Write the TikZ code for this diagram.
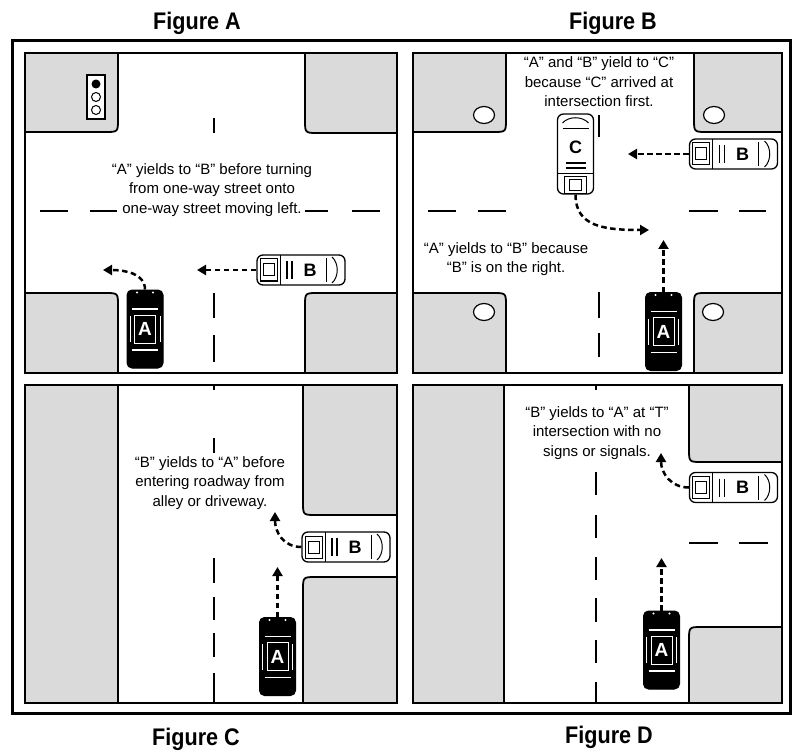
\documentclass[tikz,border=0pt]{standalone}
\usepackage{fontspec}
\setmainfont{Liberation Sans}
\newfontfamily\titlefont{Liberation Sans}[FakeStretch=0.9]
\usetikzlibrary{arrows.meta}
\definecolor{blockgray}{RGB}{218,218,218}
\newcommand\blackcardeco[1]{%
  \begin{scope}[shift={(#1.center)},white]
    \draw[line width=1.3pt] (-13,-20) -- (13,-20);
    \draw[line width=1.3pt] (-13,21) -- (13,21);
    \draw[line width=1pt] (-10.5,-14) rectangle (10.5,14);
    \draw[line width=1pt] (-15,-13) -- (-15,13) (15,-13) -- (15,13);
    \fill (-8,-36.5) circle (1.2) (8,-36.5) circle (1.2);
  \end{scope}}
\newcommand\whitecarHdeco[1]{%
  \begin{scope}[shift={(#1.center)},black,line width=1pt]
    \draw (-41,-11) rectangle (-24,11);
    \draw (-38,-6) rectangle (-27,6);
    \draw (-21,-15) -- (-21,15);
    \draw[line width=1.3pt] (-14,-9) -- (-14,9) (-9,-9) -- (-9,9);
    \draw (25,-12) -- (25,12);
    \draw (31,-13) .. controls (38,-7) and (38,7) .. (31,13);
  \end{scope}}
\newcommand\whitecarVdeco[1]{%
  \begin{scope}[shift={(#1.center)},black,line width=1pt]
    \draw (-11,23) rectangle (11,40);
    \draw (-6,26) rectangle (6,37);
    \draw (-18,20) -- (18,20);
    \draw[line width=1.3pt] (-10,14) -- (10,14) (-10,9) -- (10,9);
    \draw (-13,-25) -- (13,-25);
    \draw (-13,-31) .. controls (-7,-38) and (7,-38) .. (13,-31);
  \end{scope}}
\begin{document}
\begin{tikzpicture}[x=1pt,y=-1pt,
  frame/.style={draw=black,line width=1.8pt},
  block/.style={fill=blockgray,draw=black,line width=1.8pt},
  lane/.style={line width=2.6pt},
  flow/.style={line width=2.5pt,dash pattern=on 5.5pt off 3.5pt,-{Triangle[length=9pt,width=10pt]}},
  lbl/.style={font=\fontsize{15}{19.5}\selectfont,align=center,inner sep=1pt},
  ttl/.style={font=\titlefont\fontsize{24}{28}\selectfont\bfseries,anchor=base,inner sep=0pt},
  carletter/.style={font=\fontsize{18}{18}\selectfont\bfseries,inner sep=0pt},
  blackcar/.style={fill=black,draw=black,line width=1pt,rounded corners=5pt,
    minimum width=36pt,minimum height=78pt,inner sep=0pt},
  whitecarH/.style={fill=white,draw=black,line width=1.3pt,rounded corners=6pt,
    minimum width=88pt,minimum height=30pt,inner sep=0pt},
  whitecarV/.style={fill=white,draw=black,line width=1.3pt,rounded corners=6pt,
    minimum width=36pt,minimum height=80pt,inner sep=0pt},
  aletter/.style={text=white,font=\fontsize{19}{19}\selectfont\bfseries,inner sep=0pt}
]
\useasboundingbox (0,0) rectangle (792,751);
\fill[white] (0,0) rectangle (792,751);

% ---------- Panel A ----------
\path[block] (25,53) -- (118,53) -- (118,119) .. controls (118,132) .. (105,132) -- (25,132) -- cycle;
\path[block] (397,53) -- (305,53) -- (305,120) .. controls (305,133) .. (318,133) -- (397,133) -- cycle;
\path[block] (25,373) -- (118,373) -- (118,306) .. controls (118,293) .. (105,293) -- (25,293) -- cycle;
\path[block] (397,373) -- (305,373) -- (305,306) .. controls (305,293) .. (318,293) -- (397,293) -- cycle;
\draw[frame] (25,53) rectangle (397,373);
% traffic light
\draw[fill=white,line width=1.2pt] (87,75) rectangle (105,119);
\fill[black] (96,84) circle (4.5);
\draw[fill=white,line width=1pt] (96,97) circle (4.5);
\draw[fill=white,line width=1pt] (96,110) circle (4.5);
% lanes
\draw[lane] (214,118) -- (214,133);
\draw[lane] (214,293) -- (214,318);
\draw[lane] (214,335) -- (214,362);
\draw[lane] (40,211) -- (68,211);
\draw[lane] (90,211) -- (117,211);
\draw[lane] (305,211) -- (328,211);
\draw[lane] (352,211) -- (380,211);
\node[lbl] (labA) at (212,190) {“A” yields to “B” before turning\\from one-way street onto\\one-way street moving left.};
\node[blackcar] (aA) at (145,329) {};
\blackcardeco{aA}
\node[aletter] (aAl) at (aA.center) {A};
\node[whitecarH,label={[carletter,xshift=9pt]center:B}] (bA) at (301,270) {};
\whitecarHdeco{bA}
\coordinate (tA1) at (103,270);
\coordinate (tA2) at (197,270);
\draw[flow] (aA.north) .. controls +(0,-16) and +(22,0) .. (tA1);
\draw[flow] (bA.west) -- (tA2);

% ---------- Panel B ----------
\path[block] (413,53) -- (506,53) -- (506,119) .. controls (506,132) .. (493,132) -- (413,132) -- cycle;
\path[block] (782,53) -- (694,53) -- (694,119) .. controls (694,132) .. (707,132) -- (782,132) -- cycle;
\path[block] (413,373) -- (506,373) -- (506,306) .. controls (506,293) .. (493,293) -- (413,293) -- cycle;
\path[block] (782,373) -- (694,373) -- (694,306) .. controls (694,293) .. (707,293) -- (782,293) -- cycle;
\draw[frame] (413,53) rectangle (782,373);
\foreach \cx/\cy in {484/115,714/115,484/312,713/312}
  \draw[fill=white,line width=1.2pt] (\cx,\cy) ellipse (10.5 and 8.5);
\draw[lane] (599,115) -- (599,137);
\draw[lane] (599,292) -- (599,318);
\draw[lane] (599,333) -- (599,357);
\draw[lane] (428,211) -- (456,211);
\draw[lane] (478,211) -- (506,211);
\draw[lane] (689,211) -- (718,211);
\draw[lane] (739,211) -- (766,211);
\node[lbl] (labB1) at (599,82) {“A” and “B” yield to “C”\\because “C” arrived at\\intersection first.};
\node[lbl] (labB2) at (506,259) {“A” yields to “B” because\\“B” is on the right.};
\node[whitecarV,label={[carletter,yshift=7pt]center:C}] (cB) at (575.5,154) {};
\whitecarVdeco{cB}
\node[whitecarH,label={[carletter,xshift=9pt]center:B}] (bB) at (733.5,154) {};
\whitecarHdeco{bB}
\node[blackcar] (aB) at (663.5,331.5) {};
\blackcardeco{aB}
\node[aletter] (aBl) at (aB.center) {A};
\coordinate (tBB) at (628,154);
\coordinate (tAB) at (663.5,240);
\coordinate (tCB) at (649,230);
\draw[flow] (bB.west) -- (tBB);
\draw[flow] (aB.north) -- (tAB);
\draw[flow] (cB.south) .. controls +(0,32) and +(-45,0) .. (tCB);

% ---------- Panel C ----------
\path[block] (25,385) rectangle (118,703);
\path[block] (397,385) -- (303,385) -- (303,502) .. controls (303,515) .. (316,515) -- (397,515) -- cycle;
\path[block] (397,703) -- (303,703) -- (303,590) .. controls (303,577) .. (316,577) -- (397,577) -- cycle;
\draw[frame] (25,385) rectangle (397,703);
\draw[lane] (214,385) -- (214,390);
\draw[lane] (214,438) -- (214,453);
\draw[lane] (214,558) -- (214,583);
\draw[lane] (214,597) -- (214,620);
\draw[lane] (214,633) -- (214,657);
\draw[lane] (214,673) -- (214,703);
\node[lbl] (labC) at (210,483) {“B” yields to “A” before\\entering roadway from\\alley or driveway.};
\node[whitecarH,label={[carletter,xshift=9pt]center:B}] (bC) at (346,547) {};
\whitecarHdeco{bC}
\node[blackcar] (aC) at (277.5,656.5) {};
\blackcardeco{aC}
\node[aletter] (aCl) at (aC.center) {A};
\coordinate (tBC) at (275,512);
\coordinate (tAC) at (277.5,567);
\draw[flow] (bC.west) .. controls +(-18,0) and +(0,20) .. (tBC);
\draw[flow] (aC.north) -- (tAC);

% ---------- Panel D ----------
\path[block] (413,385) rectangle (504,703);
\path[block] (782,385) -- (689,385) -- (689,449) .. controls (689,462) .. (702,462) -- (782,462) -- cycle;
\path[block] (782,703) -- (689,703) -- (689,640) .. controls (689,627) .. (702,627) -- (782,627) -- cycle;
\draw[frame] (413,385) rectangle (782,703);
\draw[lane] (596,385) -- (596,390);
\draw[lane] (596,472) -- (596,495);
\draw[lane] (596,515) -- (596,538);
\draw[lane] (596,557) -- (596,580);
\draw[lane] (596,598) -- (596,622);
\draw[lane] (596,640) -- (596,663);
\draw[lane] (596,682) -- (596,703);
\draw[lane] (689,543) -- (718,543);
\draw[lane] (739,543) -- (768,543);
\node[lbl] (labD) at (597,433) {“B” yields to “A” at “T”\\intersection with no\\signs or signals.};
\node[whitecarH,label={[carletter,xshift=9pt]center:B}] (bD) at (733.5,487.5) {};
\whitecarHdeco{bD}
\node[blackcar] (aD) at (661.5,650) {};
\blackcardeco{aD}
\node[aletter] (aDl) at (aD.center) {A};
\coordinate (tBD) at (661,453);
\coordinate (tAD) at (661.5,558);
\draw[flow] (bD.west) .. controls +(-18,0) and +(0,20) .. (tBD);
\draw[flow] (aD.north) -- (tAD);

% ---------- outer frame and titles ----------
\draw[line width=3pt] (12,41) rectangle (790,713);
\node[ttl] (tiA) at (197,29.5) {Figure A};
\node[ttl] (tiB) at (613,29.5) {Figure B};
\node[ttl] (tiC) at (196,745) {Figure C};
\node[ttl] (tiD) at (609,743) {Figure D};
\end{tikzpicture}
\end{document}
